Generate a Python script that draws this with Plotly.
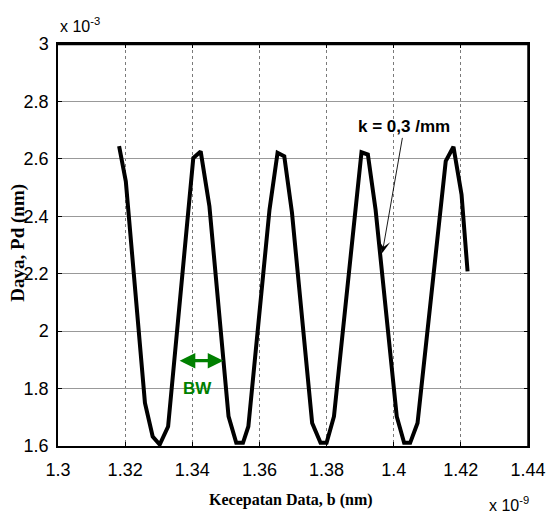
import plotly.graph_objects as go

# Data (x in units of 1e-9, y in units of 1e-3)
x_vals = [1.3182, 1.3202, 1.3259, 1.3282, 1.3303, 1.3328, 1.3403, 1.3425, 1.3451,
          1.3508, 1.3531, 1.3551, 1.3567, 1.3630, 1.3654, 1.3674, 1.3697, 1.3757,
          1.3782, 1.3800, 1.3822, 1.3884, 1.3904, 1.3923, 1.3946, 1.4009, 1.4031,
          1.4049, 1.4071, 1.4155, 1.4178, 1.4202, 1.4220]
y_vals = [2.644, 2.522, 1.750, 1.633, 1.605, 1.668, 2.603, 2.626, 2.435,
          1.703, 1.611, 1.611, 1.668, 2.423, 2.621, 2.609, 2.412, 1.680,
          1.611, 1.611, 1.703, 2.423, 2.623, 2.615, 2.423, 1.703, 1.611,
          1.611, 1.680, 2.592, 2.642, 2.476, 2.208]

x_ticks = [1.3, 1.32, 1.34, 1.36, 1.38, 1.4, 1.42, 1.44]
y_ticks = [1.6, 1.8, 2.0, 2.2, 2.4, 2.6, 2.8, 3.0]

x_title = "Kecepatan Data, b (nm)"
y_title = "Daya, Pd (nm)"
k_label = "k = 0,3 /mm"
k_point = (1.3966, 2.2725)
bw_label = "BW"
bw_left = 1.33534
bw_right = 1.34927
bw_y = 1.897
bw_text_pos = (1.3415, 1.802)

sans = "Liberation Sans, Arial, sans-serif"
serif = "Liberation Serif, Times New Roman, serif"
green = "#008000"

fig = go.Figure()
fig.add_trace(go.Scatter(x=x_vals, y=y_vals, mode="lines",
                         line=dict(color="black", width=4), showlegend=False,
                         hoverinfo="skip"))

fig.update_layout(
    width=547, height=518,
    margin=dict(l=58, r=19, t=44, b=72, autoexpand=False),
    paper_bgcolor="white", plot_bgcolor="white",
    showlegend=False,
)

fig.update_xaxes(
    range=[1.3, 1.44], tickvals=x_ticks, ticktext=[f"{v:g}" for v in x_ticks],
    showgrid=True, gridcolor="#7a7a7a", gridwidth=1, griddash="dot",
    showline=True, linecolor="black", linewidth=2, mirror="allticks",
    ticks="inside", ticklen=4, tickcolor="black", zeroline=False,
    automargin=False, ticklabelstandoff=6,
    tickfont=dict(family=sans, size=18, color="black"),
)
fig.update_yaxes(
    range=[1.6, 3.0], tickvals=y_ticks, ticktext=[f"{v:g}" for v in y_ticks],
    showgrid=True, gridcolor="#999999", gridwidth=1.3,
    showline=True, linecolor="black", linewidth=1.5, mirror="allticks",
    ticks="inside", ticklen=4, tickcolor="black", zeroline=False,
    automargin=False, ticklabelstandoff=4,
    tickfont=dict(family=sans, size=18, color="black"),
)

# explicit frame (top and right edges)
fig.add_shape(type="line", xref="paper", yref="paper", x0=0, x1=1, y0=1, y1=1,
              line=dict(color="black", width=2.5), layer="above")
fig.add_shape(type="line", xref="paper", yref="paper", x0=1, x1=1, y0=0, y1=1,
              line=dict(color="black", width=1.5), layer="above")

# axis titles
fig.add_annotation(text="<b>" + x_title + "</b>", xref="paper", yref="paper",
                   x=0.496, y=-0.134, xanchor="center", yanchor="middle", showarrow=False,
                   font=dict(family=serif, size=16, color="black"))
fig.add_annotation(text="<b>" + y_title + "</b>", xref="paper", yref="paper",
                   x=-0.085, y=0.506, xanchor="center", yanchor="middle", showarrow=False,
                   textangle=-90, font=dict(family=serif, size=19, color="black"))

# exponent labels
fig.add_annotation(text="x 10<sup>-3</sup>", xref="paper", yref="paper",
                   x=0.0, y=1.047, xanchor="left", yanchor="middle", showarrow=False,
                   font=dict(family=sans, size=16, color="black"))
fig.add_annotation(text="x 10<sup>-9</sup>", xref="paper", yref="paper",
                   x=0.913, y=-0.144, xanchor="left", yanchor="middle", showarrow=False,
                   font=dict(family=sans, size=16, color="black"))

# k label with arrow
fig.add_annotation(text="<b>" + k_label + "</b>", x=k_point[0], y=k_point[1],
                   xref="x", yref="y", ax=22, ay=-126, showarrow=True,
                   arrowhead=3, arrowsize=2.2, arrowwidth=0.9, arrowcolor="black",
                   font=dict(family=sans, size=17, color="black"))

# BW double arrow
fig.add_annotation(text=" ", x=bw_right, y=bw_y, ax=bw_left, ay=bw_y,
                   xref="x", yref="y", axref="x", ayref="y", showarrow=True,
                   arrowhead=2, arrowside="end+start", arrowsize=0.95, arrowwidth=3.3,
                   arrowcolor=green, standoff=0, startstandoff=0)
fig.add_annotation(text="<b>" + bw_label + "</b>", x=bw_text_pos[0], y=bw_text_pos[1],
                   xref="x", yref="y", showarrow=False,
                   font=dict(family=sans, size=17, color=green))

fig.write_html("out.html", config={"displayModeBar": False},
               post_script="document.body.style.margin='0';")
